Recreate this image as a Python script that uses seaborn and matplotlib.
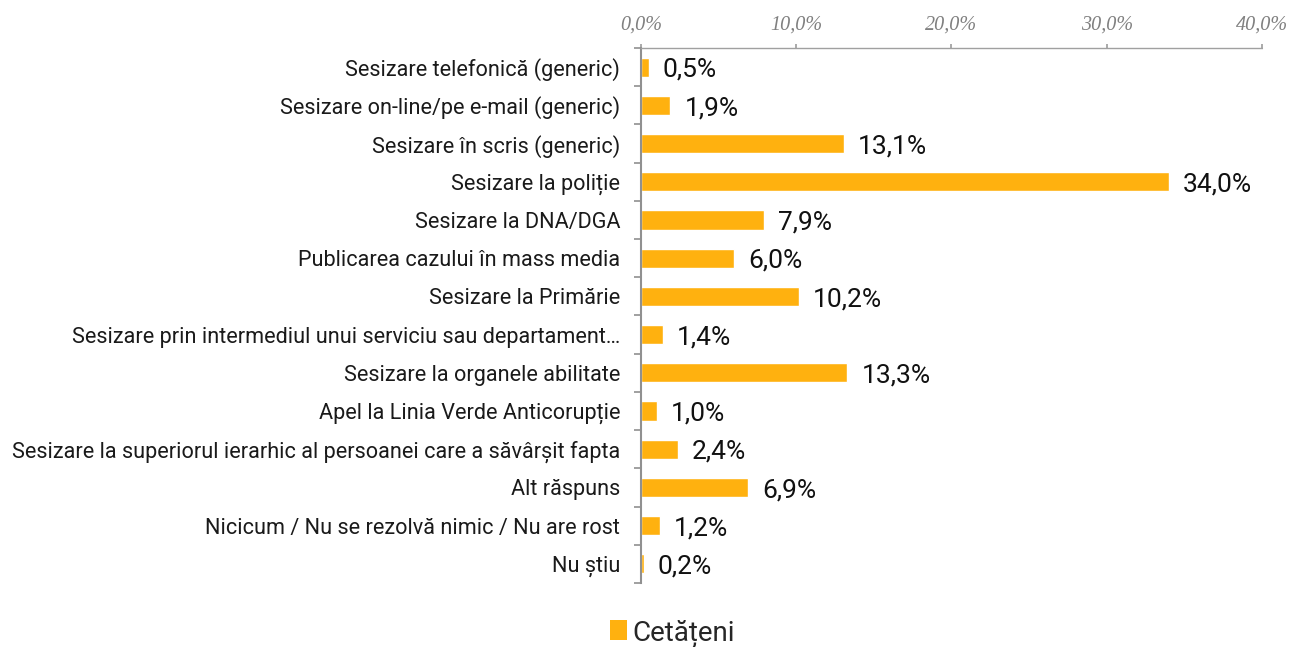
import matplotlib
matplotlib.use("Agg")
import matplotlib.pyplot as plt
import seaborn as sns
import pandas as pd
import numpy as np
from matplotlib.patches import Patch
from matplotlib.ticker import FixedLocator

categories = [
    "Sesizare telefonică (generic)",
    "Sesizare on-line/pe e-mail (generic)",
    "Sesizare în scris (generic)",
    "Sesizare la poliție",
    "Sesizare la DNA/DGA",
    "Publicarea cazului în mass media",
    "Sesizare la Primărie",
    "Sesizare prin intermediul unui serviciu sau departament…",
    "Sesizare la organele abilitate",
    "Apel la Linia Verde Anticorupție",
    "Sesizare la superiorul ierarhic al persoanei care a săvârșit fapta",
    "Alt răspuns",
    "Nicicum / Nu se rezolvă nimic / Nu are rost",
    "Nu știu",
]
values = [0.5, 1.9, 13.1, 34.0, 7.9, 6.0, 10.2, 1.4, 13.3, 1.0, 2.4, 6.9, 1.2, 0.2]
series_name = "Cetățeni"
xticks = [0, 10, 20, 30, 40]
xtick_labels = ["0,0%", "10,0%", "20,0%", "30,0%", "40,0%"]

sns.set_theme(style="white")
plt.rcParams['font.family'] = ['Roboto', 'DejaVu Sans']

df = pd.DataFrame({"cat": categories, "val": values})
color = "#FFB10F"

fig = plt.figure(figsize=(12.91, 6.47), dpi=100)
ax = fig.add_axes([0.4965, 0.099, 0.4810, 0.8268])
sns.barplot(data=df, y="cat", x="val", orient="h", color=color, width=0.5,
            saturation=1, ax=ax)

ax.set_xlim(0, 40)
ax.set_ylim(len(categories) - 0.5, -0.5)
ax.xaxis.tick_top()
ax.set_xticks(xticks)
ax.set_xticklabels(xtick_labels, fontstyle="italic", color="#808080",
                   fontsize=14.5, family="Liberation Serif")
ax.tick_params(axis="x", which="major", length=3, color="#a0a0a0", pad=7,
               top=True, bottom=False, direction="out")
ax.set_xlabel("")
ax.set_ylabel("")

ax.tick_params(axis="y", which="major", length=0, pad=15, labelsize=15.6,
               labelcolor="#1a1a1a")
ax.yaxis.set_minor_locator(FixedLocator(np.arange(-0.5, len(categories), 1.0)))
ax.tick_params(axis="y", which="minor", length=5, color="#909090", width=1.2,
               left=True)

for s in ["right", "bottom"]:
    ax.spines[s].set_visible(False)
ax.spines["left"].set_color("#909090")
ax.spines["left"].set_linewidth(1.5)
ax.spines["top"].set_color("#a0a0a0")
ax.spines["top"].set_linestyle((0, (1, 1)))
ax.spines["top"].set_linewidth(1)

labels = [f"{v:.1f}%".replace(".", ",") for v in values]
texts = ax.bar_label(ax.containers[0], labels=labels, padding=10, fontsize=19,
                     color="#111111")
for t in texts:
    t.set_va("center")
    x, y = t.xyann
    t.xyann = (x, -2)

handles = [Patch(facecolor=color, edgecolor="none")]
fig.legend(handles, [series_name], loc="center", bbox_to_anchor=(0.521, 0.022),
           frameon=False, fontsize=20, handlelength=0.6, handleheight=0.7,
           handletextpad=0.2)

fig.savefig("out.png", dpi=100)
